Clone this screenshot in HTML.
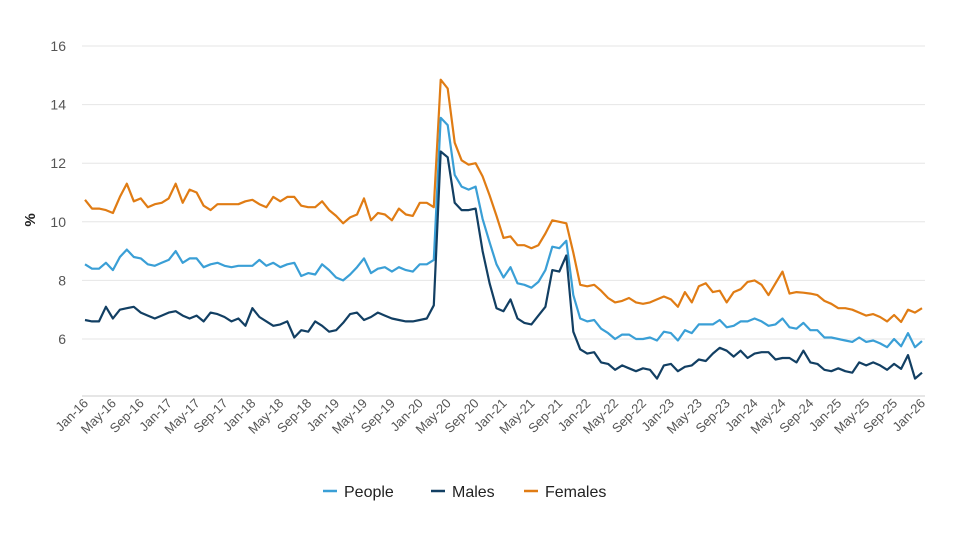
<!DOCTYPE html>
<html><head><meta charset="utf-8"><style>
body{margin:0;background:#fff;font-family:"Liberation Sans",sans-serif}
</style></head><body>
<svg id="chart" width="953" height="536" xmlns="http://www.w3.org/2000/svg" font-family="Liberation Sans, sans-serif"></svg>
<script>
const yTicks=[6,8,10,12,14,16];
const females=[10.75,10.45,10.45,10.4,10.3,10.85,11.3,10.7,10.8,10.5,10.6,10.65,
10.8,11.3,10.65,11.1,11.0,10.55,10.4,10.6,10.6,10.6,10.6,10.7,
10.75,10.6,10.5,10.85,10.7,10.85,10.85,10.55,10.5,10.5,10.7,
10.4,10.2,9.95,10.15,10.25,10.8,10.05,10.3,10.25,10.05,10.45,10.25,
10.2,10.65,10.65,10.5,14.85,14.55,12.7,12.1,11.95,12.0,11.55,10.9,
10.2,9.45,9.5,9.2,9.2,9.1,9.2,9.6,10.05,10.0,9.95,8.95,
7.85,7.8,7.85,7.65,7.4,7.25,7.3,7.4,7.25,7.2,7.25,7.35,
7.45,7.35,7.1,7.6,7.25,7.8,7.9,7.6,7.65,7.25,7.6,7.7,
7.95,8.0,7.85,7.5,7.9,8.3,
7.55,7.6,7.58,7.55,7.5,7.3,7.2,7.05,7.05,7.0,6.9,6.8,6.85,6.75,6.6,6.82,6.58,7.0,6.9,7.05];
const people=[8.55,8.4,8.4,8.6,8.35,8.8,9.05,8.8,8.75,8.55,8.5,8.6,
8.7,9.0,8.6,8.75,8.75,8.45,8.55,8.6,8.5,8.45,8.5,8.5,
8.5,8.7,8.5,8.6,8.45,8.55,8.6,8.15,8.25,8.2,8.55,
8.35,8.1,8.0,8.2,8.45,8.75,8.25,8.4,8.45,8.3,8.45,8.35,
8.3,8.55,8.55,8.7,13.55,13.3,11.6,11.2,11.1,11.2,10.1,9.3,
8.55,8.1,8.45,7.9,7.85,7.75,7.95,8.35,9.15,9.1,9.35,7.5,
6.7,6.6,6.65,6.35,6.2,6.0,6.15,6.15,6.0,6.0,6.05,5.95,
6.25,6.2,5.95,6.3,6.2,6.5,6.5,6.5,6.65,6.4,6.45,6.6,
6.6,6.7,6.6,6.45,6.5,6.7,
6.4,6.35,6.55,6.3,6.3,6.05,6.05,6.0,5.95,5.9,6.05,5.9,5.95,5.85,5.72,6.0,5.75,6.2,5.72,5.93];
const males=[6.65,6.6,6.6,7.1,6.7,7.0,7.05,7.1,6.9,6.8,6.7,6.8,
6.9,6.95,6.8,6.7,6.8,6.6,6.9,6.85,6.75,6.6,6.7,6.45,
7.05,6.75,6.6,6.45,6.5,6.6,6.05,6.3,6.25,6.6,6.45,
6.25,6.3,6.55,6.85,6.9,6.65,6.75,6.9,6.8,6.7,6.65,6.6,
6.6,6.65,6.7,7.15,12.4,12.2,10.65,10.4,10.4,10.45,9.0,7.9,
7.05,6.95,7.35,6.7,6.55,6.5,6.8,7.1,8.35,8.3,8.85,6.25,
5.65,5.5,5.55,5.2,5.15,4.95,5.1,5.0,4.9,5.0,4.95,4.65,
5.1,5.15,4.9,5.05,5.1,5.3,5.25,5.5,5.7,5.6,5.4,5.6,
5.35,5.5,5.55,5.55,5.3,5.35,
5.35,5.2,5.6,5.2,5.15,4.95,4.9,5.0,4.9,4.85,5.2,5.1,5.2,5.1,4.95,5.15,4.98,5.45,4.65,4.85];
const xLabels=[];
const mons=["Jan","May","Sep"];
for(let y=16;y<=26;y++){for(const m of mons){if(y===26&&m!=="Jan")break;xLabels.push(m+"-"+y);}}
const NS="http://www.w3.org/2000/svg";
const svg=document.getElementById('chart');
const x0=85,x1=922,n=females.length;
const xs=i=>x0+(x1-x0)*i/(n-1);
const ys=v=>339-(v-6)*29.3;
function mk(t,a){const e=document.createElementNS(NS,t);for(const k in a)e.setAttribute(k,a[k]);svg.appendChild(e);return e;}
yTicks.forEach(v=>{
 const g=mk('line',{x1:82,x2:925,y1:ys(v),y2:ys(v),stroke:'#e6e6e6','stroke-width':1});
 
 
 const t=mk('text',{x:66,y:ys(v)+5,'text-anchor':'end','font-size':14,fill:'#555'});
 t.textContent=v;
 
 
});
const ax=mk('line',{x1:82,x2:925,y1:396,y2:396,stroke:'#ccc','stroke-width':1});


xLabels.forEach((l,k)=>{
 const x=xs(k*4);
 const t=mk('text',{x:x+4,y:404,'text-anchor':'end','font-size':13,fill:'#555',transform:`rotate(-45 ${x+4} 404)`});
 t.textContent=l;
 
 
});
const yt=mk('text',{x:35,y:220,'text-anchor':'middle','font-size':15,'font-weight':'bold',fill:'#222',transform:'rotate(-90 35 220)'});
yt.textContent='%';


function line(d,c,name){
 const p=mk('polyline',{points:d.map((v,i)=>xs(i).toFixed(1)+','+ys(v).toFixed(1)).join(' '),fill:'none',stroke:c,'stroke-width':2.2,'stroke-linejoin':'round'});
 
 
}
line(females,'#e07c14','females-line');
line(people,'#3a9fd6','people-line');
line(males,'#123f63','males-line');
const leg=[['People','#3a9fd6',323],['Males','#123f63',431],['Females','#e07c14',524]];
leg.forEach(([l,c,x])=>{
 const s=mk('line',{x1:x,x2:x+14,y1:491,y2:491,stroke:c,'stroke-width':2.5});
 
 
 const t=mk('text',{x:x+21,y:497,'font-size':16,fill:'#222'});
 t.textContent=l;
 
 
});
</script>
</body></html>
